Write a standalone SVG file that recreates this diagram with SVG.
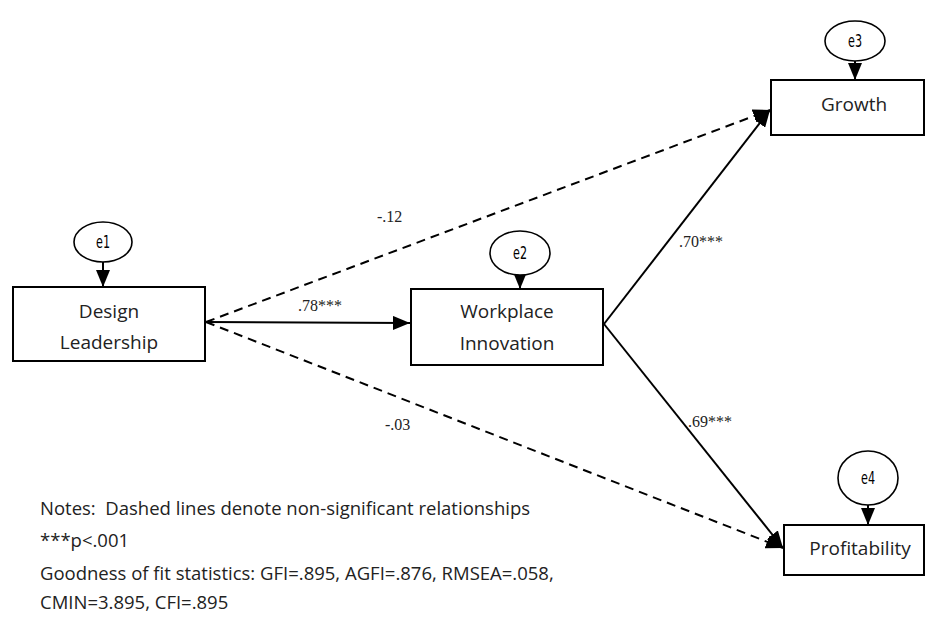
<svg xmlns="http://www.w3.org/2000/svg" width="926" height="617" viewBox="0 0 926 617">
<style>
.box{fill:#fff;stroke:#000;stroke-width:2}
.err{fill:#fff;stroke:#000;stroke-width:1.6}
.lbl{font-family:"Open Sans","Liberation Sans",sans-serif;font-size:19px;fill:#222;text-anchor:middle}
.e{font-family:"Liberation Sans Narrow","DejaVu Sans Condensed","Liberation Sans",sans-serif;font-size:17px;fill:#000;text-anchor:middle}
.coef{font-family:"Liberation Serif",serif;font-size:16px;fill:#222}
.note{font-family:"Open Sans","Liberation Sans",sans-serif;font-size:18.5px;fill:#222;white-space:pre}
.solid{stroke:#000;stroke-width:2;fill:none}
.dash{stroke:#000;stroke-width:2;fill:none;stroke-dasharray:9,6}
</style>
<defs>
<marker id="ah" markerUnits="userSpaceOnUse" markerWidth="18" markerHeight="14" refX="17" refY="7" orient="auto">
<path d="M0,0 L17,7 L0,14 Z" fill="#000"/>
</marker>
</defs>
<rect width="926" height="617" fill="#fff"/>
<g id="connectors">
<line class="solid" x1="206" y1="322" x2="410" y2="323" marker-end="url(#ah)"/>
<line class="dash" x1="206" y1="322" x2="770" y2="110" marker-end="url(#ah)"/>
<line class="dash" x1="206" y1="322" x2="783" y2="548" marker-end="url(#ah)"/>
<line class="solid" x1="604" y1="324" x2="770" y2="110" marker-end="url(#ah)"/>
<line class="solid" x1="604" y1="324" x2="783" y2="548" marker-end="url(#ah)"/>
<line class="solid" x1="103" y1="262" x2="103" y2="287" marker-end="url(#ah)"/>
<line class="solid" x1="520" y1="275" x2="520" y2="289" marker-end="url(#ah)"/>
<line class="solid" x1="855" y1="61" x2="855" y2="80" marker-end="url(#ah)"/>
<line class="solid" x1="868" y1="505" x2="868" y2="525" marker-end="url(#ah)"/>
</g>
<g id="coefs">
<text class="coef" x="298" y="311">.78***</text>
<text class="coef" x="377" y="222">-.12</text>
<text class="coef" x="385" y="430">-.03</text>
<text class="coef" x="679" y="247">.70***</text>
<text class="coef" x="688" y="427">.69***</text>
</g>
<g id="e1"><ellipse class="err" cx="103" cy="242" rx="29" ry="20"/><text class="e" x="103" y="248" textLength="14" lengthAdjust="spacingAndGlyphs">e1</text></g>
<g id="e2"><ellipse class="err" cx="520" cy="253" rx="30" ry="22"/><text class="e" x="520" y="259" textLength="14" lengthAdjust="spacingAndGlyphs">e2</text></g>
<g id="e3"><ellipse class="err" cx="855" cy="41" rx="30" ry="20"/><text class="e" x="855" y="47" textLength="14" lengthAdjust="spacingAndGlyphs">e3</text></g>
<g id="e4"><ellipse class="err" cx="868" cy="478" rx="30" ry="27"/><text class="e" x="868" y="484" textLength="14" lengthAdjust="spacingAndGlyphs">e4</text></g>
<g id="design-leadership"><rect class="box" x="13" y="287" width="192" height="74"/><text class="lbl" x="109" y="318">Design</text><text class="lbl" x="109" y="349">Leadership</text></g>
<g id="workplace-innovation"><rect class="box" x="411" y="289" width="192" height="76"/><text class="lbl" x="507" y="318">Workplace</text><text class="lbl" x="507" y="350">Innovation</text></g>
<g id="growth"><rect class="box" x="771" y="80" width="153" height="55"/><text class="lbl" x="854" y="111">Growth</text></g>
<g id="profitability"><rect class="box" x="784" y="525" width="140" height="50"/><text class="lbl" x="860" y="555">Profitability</text></g>
<g id="notes">
<text class="note" x="40" y="515" xml:space="preserve">Notes:  Dashed lines denote non-significant relationships</text>
<text class="note" x="40" y="547">***p&lt;.001</text>
<text class="note" x="40" y="580">Goodness of fit statistics: GFI=.895, AGFI=.876, RMSEA=.058,</text>
<text class="note" x="40" y="609">CMIN=3.895, CFI=.895</text>
</g>
</svg>
